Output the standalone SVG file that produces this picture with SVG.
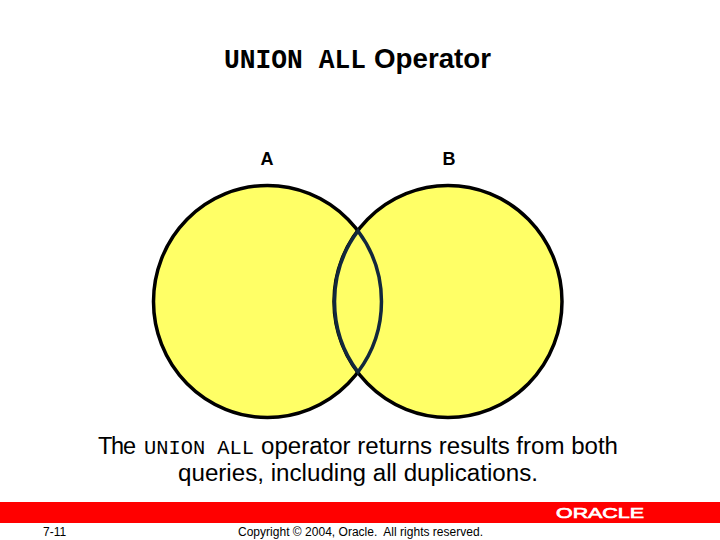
<svg xmlns="http://www.w3.org/2000/svg" width="720" height="540" viewBox="0 0 720 540">
<style>
.s{font-family:"Liberation Sans",Arial,sans-serif;fill:#000}
.m{font-family:"Liberation Mono","Courier New",monospace;fill:#000}
.c{fill:#ffff66;stroke:#000;stroke-width:3.500}
</style>
<rect width="720" height="540" fill="#fff"/>
<text class="m" x="224" y="68" font-size="27" font-weight="700" textLength="142" lengthAdjust="spacingAndGlyphs">UNION ALL</text>
<text class="s" x="374" y="68" font-size="27.500" font-weight="700" textLength="117" lengthAdjust="spacingAndGlyphs">Operator</text>
<g id="node-a">
<ellipse class="c" cx="267.500" cy="301.500" rx="114" ry="116"/>
<text class="s" x="267" y="165" text-anchor="middle" font-size="18" font-weight="700">A</text>
</g>
<g id="node-b">
<ellipse class="c" cx="448" cy="301.500" rx="114" ry="116"/>
<text class="s" x="449" y="165" text-anchor="middle" font-size="18" font-weight="700">B</text>
</g>
<g id="overlap">
<path d="M358 231A114 116 0 0 1 358 372A114 116 0 0 1 358 231Z" fill="#ffff66" stroke="#12283c" stroke-width="3.500"/>
</g>
<text class="s" x="98" y="454" font-size="23.500" textLength="38">The</text>
<text class="m" x="144" y="454" font-size="20.500" textLength="110" lengthAdjust="spacingAndGlyphs">UNION ALL</text>
<text class="s" x="261" y="454" font-size="23.500" textLength="357" lengthAdjust="spacingAndGlyphs">operator returns results from both</text>
<text class="s" x="178" y="481" font-size="23.500" textLength="360" lengthAdjust="spacingAndGlyphs">queries, including all duplications.</text>
<rect x="0" y="502" width="720" height="21" fill="#ff0000"/>
<text id="logo" x="556" y="518" font-family="'Liberation Sans',Arial,sans-serif" font-size="15.500" fill="#fff" stroke="#fff" stroke-width=".7" textLength="88" lengthAdjust="spacingAndGlyphs">ORACLE</text>
<text class="s" x="43" y="536" font-size="12">7-11</text>
<text class="s" x="238" y="536" font-size="12" textLength="245" style="white-space:pre">Copyright © 2004, Oracle.  All rights reserved.</text>
</svg>
